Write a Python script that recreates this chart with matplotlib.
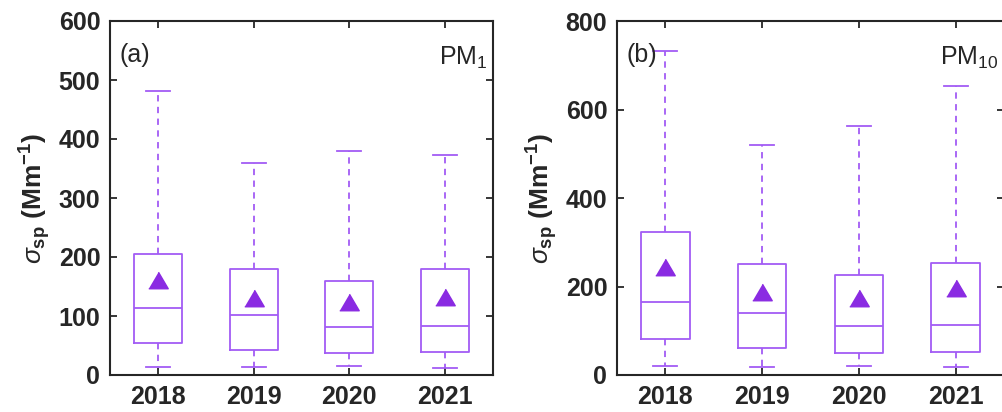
import matplotlib
matplotlib.use("Agg")
import matplotlib.pyplot as plt

plt.rcParams['font.family'] = ['Liberation Sans', 'DejaVu Sans']
plt.rcParams['mathtext.fontset'] = 'custom'
plt.rcParams['mathtext.rm'] = 'Liberation Sans'
plt.rcParams['mathtext.it'] = 'Liberation Sans:italic'
plt.rcParams['mathtext.bf'] = 'Liberation Sans:bold'

years = ['2018', '2019', '2020', '2021']

# PM1 scattering coefficient (Mm-1)
pm1_low = [14, 14, 15, 12]
pm1_q1 = [55, 42, 38, 39]
pm1_med = [114, 101, 82, 83]
pm1_q3 = [205, 179, 159, 180]
pm1_high = [482, 359, 380, 373]
pm1_mean = [161, 130, 124, 133]

# PM10 scattering coefficient (Mm-1)
pm10_low = [21, 19, 20, 17]
pm10_q1 = [81, 60, 50, 52]
pm10_med = [165, 140, 111, 113]
pm10_q3 = [324, 251, 226, 252]
pm10_high = [733, 520, 563, 654]
pm10_mean = [245, 188, 175, 196]

box_color = '#a25cf5'
mean_color = '#8a2be2'
text_color = '#262626'

fig = plt.figure(figsize=(10.02, 4.12), dpi=100)
ax1 = fig.add_axes([110 / 1002, 37 / 412, 383 / 1002, 354 / 412])
ax2 = fig.add_axes([617 / 1002, 37 / 412, 387 / 1002, 354 / 412])

tri = [(-1, -0.85), (1, -0.85), (0, 0.85)]


def draw(ax, low, q1, med, q3, high, mean, ymax, yticks, label, sub):
    stats = []
    for i in range(len(years)):
        stats.append(dict(whislo=low[i], q1=q1[i], med=med[i], q3=q3[i],
                          whishi=high[i], mean=mean[i], fliers=[]))
    ax.bxp(stats, positions=range(1, len(years) + 1), widths=0.5,
           showmeans=True, showfliers=False,
           boxprops=dict(color=box_color, linewidth=1.3),
           medianprops=dict(color=box_color, linewidth=1.3),
           whiskerprops=dict(color=box_color, linewidth=1.3, linestyle=(0, (3.5, 3))),
           capprops=dict(color=box_color, linewidth=1.3),
           capwidths=0.25,
           meanprops=dict(marker=tri, markersize=14, markerfacecolor=mean_color,
                          markeredgecolor=mean_color))
    ax.set_xlim(0.5, 4.5)
    ax.set_ylim(0, ymax)
    ax.set_yticks(yticks)
    ax.set_xticks(range(1, len(years) + 1))
    ax.set_xticklabels(years)
    ax.tick_params(direction='in', length=5, width=1.3, top=True, right=True,
                   labelsize=18, colors=text_color, pad=7)
    for t in ax.get_xticklabels() + ax.get_yticklabels():
        t.set_fontweight('bold')
    for s in ax.spines.values():
        s.set_linewidth(1.5)
        s.set_color(text_color)
    ax.set_ylabel(r'$\mathit{\sigma}_{\mathbf{sp}}$ $\mathbf{(Mm^{-1})}$',
                  fontsize=19, color=text_color, labelpad=4)
    ax.text(0.025, 0.885, label, transform=ax.transAxes, fontsize=18,
            color=text_color)
    ax.text(0.985, 0.875, 'PM$_{\\mathrm{' + sub + '}}$', transform=ax.transAxes,
            fontsize=18, color=text_color, ha='right')


draw(ax1, pm1_low, pm1_q1, pm1_med, pm1_q3, pm1_high, pm1_mean,
     600, [0, 100, 200, 300, 400, 500, 600], '(a)', '1')
draw(ax2, pm10_low, pm10_q1, pm10_med, pm10_q3, pm10_high, pm10_mean,
     800, [0, 200, 400, 600, 800], '(b)', '10')

fig.savefig('out.png', dpi=100)
